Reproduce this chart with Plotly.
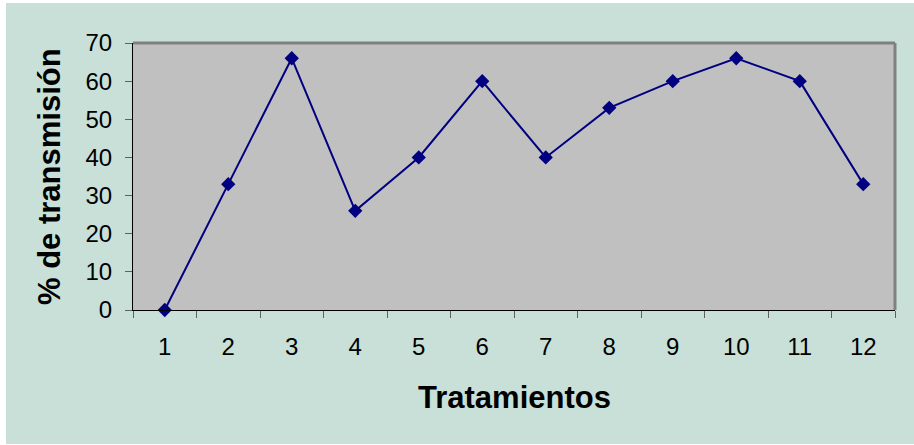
import plotly.graph_objects as go

categories = ["1", "2", "3", "4", "5", "6", "7", "8", "9", "10", "11", "12"]
transmision = [0, 33, 66, 26, 40, 60, 40, 53, 60, 66, 60, 33]
y_ticks = [0, 10, 20, 30, 40, 50, 60, 70]

W, H = 914, 445
L, R, T, B = 133, 895, 43, 310
pw, ph = R - L, B - T

def px_x(x):
    return (x - L) / pw

def px_y(y):
    return (B - y) / ph

fig = go.Figure()
fig.add_trace(go.Scatter(
    x=categories, y=transmision, mode="lines+markers",
    line=dict(color="#000080", width=2),
    marker=dict(symbol="diamond", size=11, color="#000080"),
    cliponaxis=False, showlegend=False,
))

font = "Liberation Sans, Arial, sans-serif"
fig.update_layout(
    width=W, height=H,
    margin=dict(l=L, r=W - R, t=T, b=H - B, pad=0),
    paper_bgcolor="white",
    plot_bgcolor="#C0C0C0",
    font=dict(family=font, size=24, color="black"),
    xaxis=dict(
        type="category", range=[-0.5, 11.5], tickson="boundaries",
        showline=True, linecolor="black", linewidth=1,
        ticks="outside", ticklen=7, tickcolor="#606060", tickwidth=1,
        showgrid=False, zeroline=False, ticklabelstandoff=15,
        tickfont=dict(size=24),
    ),
    yaxis=dict(
        range=[0, 70], tickvals=y_ticks,
        showline=True, linecolor="black", linewidth=1,
        ticks="outside", ticklen=7, tickcolor="#606060", tickwidth=1,
        showgrid=False, zeroline=False, ticklabelstandoff=8,
        tickfont=dict(size=24),
    ),
    shapes=[
        dict(type="rect", xref="paper", yref="paper", layer="below",
             x0=px_x(6), x1=px_x(916), y0=px_y(444), y1=px_y(3),
             fillcolor="#C8E0D8", line=dict(width=0)),
        dict(type="rect", xref="paper", yref="paper", layer="below",
             x0=0, x1=1, y0=0, y1=1,
             fillcolor="#C0C0C0", line=dict(width=0)),
        dict(type="line", xref="paper", yref="paper", layer="above",
             x0=0, x1=1, y0=1, y1=1, line=dict(color="#808080", width=3)),
        dict(type="line", xref="paper", yref="paper", layer="above",
             x0=1, x1=1, y0=0, y1=1, line=dict(color="#808080", width=3)),
    ],
    annotations=[
        dict(text="<b>Tratamientos</b>", xref="paper", yref="paper",
             x=px_x(514), y=px_y(397), showarrow=False,
             font=dict(size=31, family=font), xanchor="center", yanchor="middle"),
        dict(text="<b>% de transmisión</b>", xref="paper", yref="paper",
             x=px_x(49), y=px_y(177), showarrow=False, textangle=-90,
             font=dict(size=31, family=font), xanchor="center", yanchor="middle"),
    ],
)

fig.write_html("out.html", config={"displayModeBar": False},
               post_script="document.body.style.margin='0';")
